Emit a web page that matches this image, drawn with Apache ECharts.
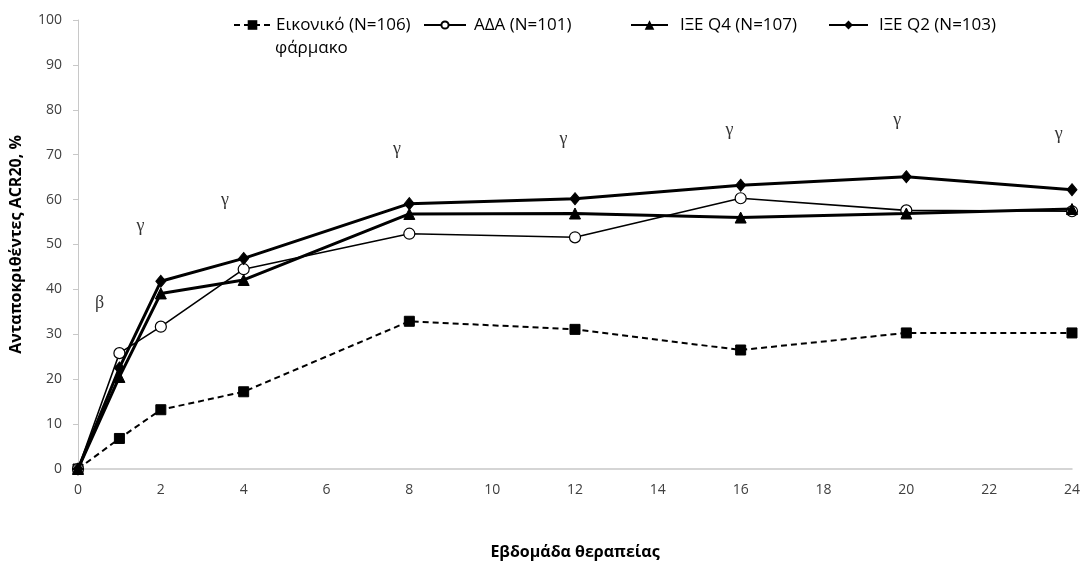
<!DOCTYPE html>
<html><head><meta charset="utf-8">
<script src="https://cdn.jsdelivr.net/npm/echarts@6/dist/echarts.min.js"></script>
<style>html,body{margin:0;padding:0;background:#fff}#c{width:1083px;height:565px}</style>
</head><body><div id="c"></div>
<script>
// ---- data ----
const weeks = [0, 1, 2, 4, 8, 12, 16, 20, 24];
const placebo = [0, 6.8, 13.2, 17.2, 32.9, 31.1, 26.5, 30.3, 30.3];
const ada = [0, 25.8, 31.7, 44.5, 52.4, 51.6, 60.3, 57.6, 57.4];
const q4 = [0, 20.5, 39.1, 42.1, 56.8, 56.9, 56.0, 56.9, 57.9];
const q2 = [0, 22.5, 41.8, 46.9, 59.1, 60.2, 63.2, 65.1, 62.2];
const seriesNames = ['Εικονικό (N=106)', 'ΑΔΑ (N=101)', 'ΙΞΕ Q4 (N=107)', 'ΙΞΕ Q2 (N=103)'];
const placeboSecondLine = 'φάρμακο';
const annotWeeks = [0.52, 1.51, 3.55, 7.7, 11.72, 15.73, 19.78, 23.68];
const annotValues = [36.3, 53.4, 59.2, 70.5, 72.7, 74.7, 77.1, 73.8];
const annotLabels = ['β', 'γ', 'γ', 'γ', 'γ', 'γ', 'γ', 'γ'];
const yTitle = 'Ανταποκριθέντες ACR20, %';
const xTitle = 'Εβδομάδα θεραπείας';

// ---- chart ----
const pair = (xs, ys) => xs.map((x, i) => [x, ys[i]]);
const chart = echarts.init(document.getElementById('c'), null, {renderer: 'canvas'});
const legendText = {fontFamily: 'Open Sans', fontSize: 17, color: '#000'};
function legendAt(left, name, w, h, padLeft) {
  return {
    data: [name], left: left, top: 16.5, padding: 0, itemWidth: w, itemHeight: h,
    textStyle: Object.assign({padding: [0, 0, 0, padLeft]}, legendText),
    selectedMode: false
  };
}
const option = {
  animation: false,
  backgroundColor: '#fff',
  grid: {left: 74, right: 11, top: 20, bottom: 87, containLabel: false},
  legend: [
    legendAt(233, seriesNames[0], 37, 12, 0),
    legendAt(423, seriesNames[1], 42, 9, 3),
    legendAt(630, seriesNames[2], 37, 12, 7),
    legendAt(828, seriesNames[3], 39, 11, 6)
  ],
  graphic: [{
    type: 'text', left: 275, top: 39.5,
    style: {text: placeboSecondLine, font: '17px "Open Sans"', fill: '#000'}
  }],
  xAxis: {
    type: 'value', min: 0, max: 24, interval: 2,
    name: xTitle, nameLocation: 'middle', nameGap: 75,
    nameTextStyle: {fontFamily: 'Open Sans', fontWeight: 'bold', fontSize: 16, color: '#000'},
    axisLine: {show: true, lineStyle: {color: '#c8c8c8', width: 1.5}},
    axisTick: {show: false},
    axisLabel: {fontFamily: 'Open Sans', fontSize: 14, color: '#404040', margin: 14},
    splitLine: {show: false}
  },
  yAxis: {
    type: 'value', min: 0, max: 100, interval: 10,
    name: yTitle, nameLocation: 'middle', nameGap: 54,
    nameTextStyle: {fontFamily: 'Open Sans', fontWeight: 'bold', fontSize: 16, color: '#000'},
    axisLine: {show: true, lineStyle: {color: '#c8c8c8', width: 1}},
    axisTick: {show: true, length: 5, lineStyle: {color: '#c8c8c8'}},
    axisLabel: {fontFamily: 'Open Sans', fontSize: 14, color: '#404040', margin: 16},
    splitLine: {show: false}
  },
  series: [
    {
      name: seriesNames[0], type: 'line', data: pair(weeks, placebo),
      symbol: 'rect', symbolSize: 10,
      lineStyle: {color: '#000', width: 2, type: [6, 4]},
      itemStyle: {color: '#000', borderColor: '#000'}, z: 2
    },
    {
      name: seriesNames[1], type: 'line', data: pair(weeks, ada),
      symbol: 'circle', symbolSize: 11,
      lineStyle: {color: '#000', width: 1.6},
      itemStyle: {color: '#fff', borderColor: '#000', borderWidth: 1.2}, z: 3
    },
    {
      name: seriesNames[2], type: 'line', data: pair(weeks, q4),
      symbol: 'triangle', symbolSize: 11,
      lineStyle: {color: '#000', width: 3},
      itemStyle: {color: '#000', borderColor: '#000'}, z: 4
    },
    {
      name: seriesNames[3], type: 'line', data: pair(weeks, q2),
      symbol: 'diamond', symbolSize: [10, 12],
      lineStyle: {color: '#000', width: 3},
      itemStyle: {color: '#000', borderColor: '#000'}, z: 5
    },
    {
      name: 'annotations', type: 'scatter', symbolSize: 0,
      data: annotWeeks.map((w, i) => ({value: [w, annotValues[i]], label: {formatter: annotLabels[i]}})),
      label: {show: true, position: 'inside', offset: [0, -3],
        fontFamily: 'Liberation Serif', fontSize: 18, color: '#000'},
      silent: true, z: 6
    }
  ]
};
chart.setOption(option);
</script></body></html>
